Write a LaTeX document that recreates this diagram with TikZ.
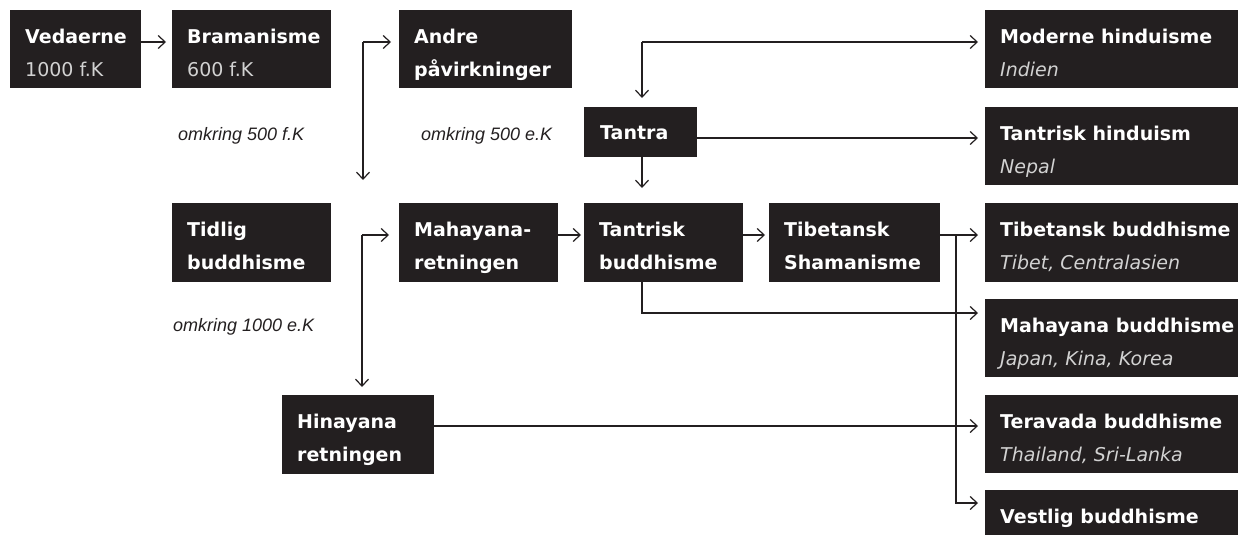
\documentclass[tikz,border=0pt]{standalone}
\usepackage{fontspec}
\setmainfont{DejaVu Sans}
\newfontfamily\lblfont{Liberation Sans}
\usetikzlibrary{arrows.meta,calc}
\definecolor{boxblack}{HTML}{231F20}
\definecolor{subgray}{HTML}{D2D2D2}
\newcommand{\ttl}[1]{\textbf{#1}}
\newcommand{\subu}[1]{{\color{subgray}#1}}
\newcommand{\subi}[1]{{\color{subgray}\itshape #1}}
\newcommand{\bx}[6]{%
  \node[boxr, minimum width=#4pt, minimum height=#5pt] (#1) at (#2,#3) {};
  \node[boxt] (#1-t) at ([xshift=15pt]#1.north west) {\rule{0pt}{33pt}#6};}
\tikzset{
  boxr/.style={fill=boxblack, draw=none, anchor=north west, inner sep=0pt, outer sep=0pt},
  boxt/.style={anchor=north west, inner sep=0pt, align=left, text=white, font=\fontsize{19}{33}\selectfont},
  arr/.style={draw=boxblack, line width=1.2pt, -{Straight Barb[length=7pt,width=13pt]}},
  lbl/.style={anchor=base west, inner sep=0pt, text=boxblack, font=\lblfont\itshape\fontsize{18}{20}\selectfont}
}
\begin{document}
\begin{tikzpicture}[x=1pt,y=-1pt]
\useasboundingbox (0,0) rectangle (1238,535);
% boxes
\bx{ved}{10}{10}{131}{78}{\ttl{Vedaerne}\\\subu{1000 f.K}}
\bx{bram}{172}{10}{159}{78}{\ttl{Bramanisme}\\\subu{600 f.K}}
\bx{andre}{399}{10}{173}{78}{\ttl{Andre}\\\ttl{påvirkninger}}
\bx{modH}{985}{10}{253}{78}{\ttl{Moderne hinduisme}\\\subi{Indien}}
\node[boxr, minimum width=113pt, minimum height=50pt] (tantra) at (584,107) {};
\node[boxt] (tantra-t) at ([xshift=16pt]tantra.north west) {\rule{0pt}{32pt}\ttl{Tantra}};
\bx{tantH}{985}{107}{253}{78}{\ttl{Tantrisk hinduism}\\\subi{Nepal}}
\bx{tidlig}{172}{203}{159}{79}{\ttl{Tidlig}\\\ttl{buddhisme}}
\bx{mahaR}{399}{203}{159}{79}{\ttl{Mahayana-}\\\ttl{retningen}}
\bx{tantB}{584}{203}{159}{79}{\ttl{Tantrisk}\\\ttl{buddhisme}}
\bx{tibS}{769}{203}{171}{79}{\ttl{Tibetansk}\\\ttl{Shamanisme}}
\bx{tibB}{985}{203}{253}{79}{\ttl{Tibetansk buddhisme}\\\subi{Tibet, Centralasien}}
\bx{mahB}{985}{299}{253}{78}{\ttl{Mahayana buddhisme}\\\subi{Japan, Kina, Korea}}
\bx{hin}{282}{395}{152}{79}{\ttl{Hinayana}\\\ttl{retningen}}
\bx{terB}{985}{395}{253}{78}{\ttl{Teravada buddhisme}\\\subi{Thailand, Sri-Lanka}}
\bx{vestB}{985}{490}{253}{45}{\ttl{Vestlig buddhisme}}
% labels
\node[lbl] (l1) at (178,140) {omkring 500 f.K};
\node[lbl] (l2) at (421,140) {omkring 500 e.K};
\node[lbl] (l3) at (173,331) {omkring 1000 e.K};
% connectors
\draw[arr] ($(ved.north east)+(0,32)$) -- ($(bram.north west)+(-6,32)$);
\coordinate (fA) at ($(bram.north east)+(32,32)$);
\draw[arr] (fA) -- ($(andre.north west)+(-8,32)$);
\draw[arr] (fA) -- ($(tidlig.north east)+(32,-23)$);
\coordinate (fT) at ($(tantra.north west)+(58,-65)$);
\draw[arr] (fT) -- ($(modH.north west)+(-7,32)$);
\draw[arr] (fT) -- ($(tantra.north west)+(58,-9)$);
\draw[arr] ($(tantra.north east)+(0,31)$) -- ($(tantH.north west)+(-7,31)$);
\draw[arr] ($(tantra.south west)+(58,0)$) -- ($(tantra.south west)+(58,31)$);
\coordinate (fB) at ($(tidlig.north east)+(31,32)$);
\draw[arr] (fB) -- ($(mahaR.north west)+(-10,32)$);
\draw[arr] (fB) -- ($(fB |- hin.north)+(0,-8)$);
\draw[arr] ($(mahaR.north east)+(0,32)$) -- ($(tantB.north west)+(-3,32)$);
\draw[arr] ($(tantB.north east)+(0,32)$) -- ($(tibS.north west)+(-4,32)$);
\draw[arr] ($(tibS.north east)+(0,32)$) -- ($(tibB.north west)+(-7,32)$);
\coordinate (fV) at ($(tibS.north east)+(16,32)$);
\draw[arr] (fV) |- ($(vestB.north west)+(-7,13)$);
\draw[arr] ($(tantB.south west)+(58,0)$) |- ($(mahB.north west)+(-7,14)$);
\draw[arr] ($(hin.north east)+(0,31)$) -- ($(terB.north west)+(-7,31)$);
\end{tikzpicture}
\end{document}
